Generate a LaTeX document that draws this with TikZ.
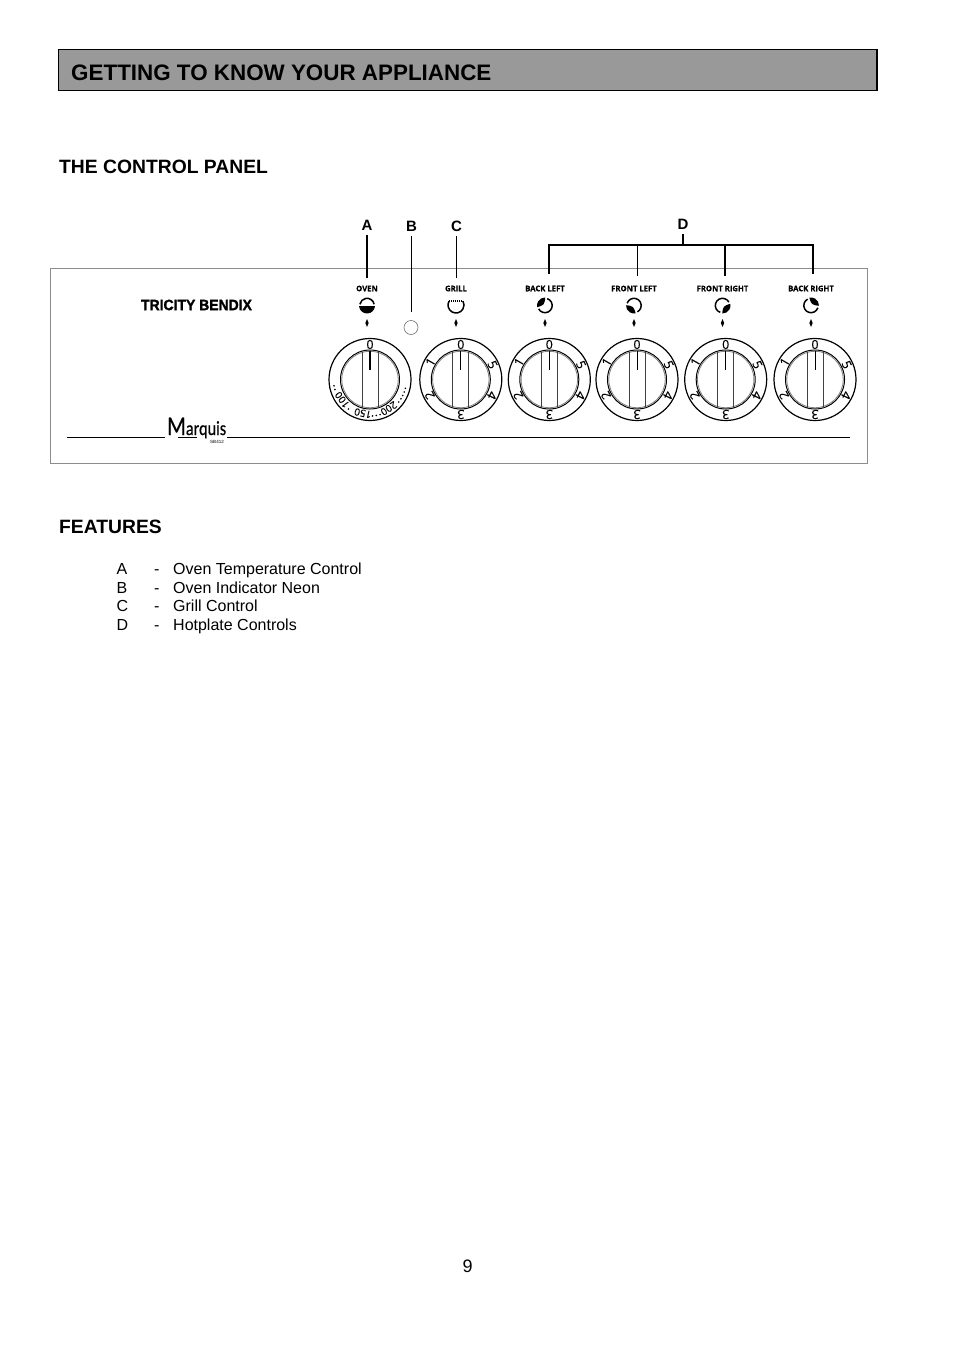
\documentclass[tikz,border=0pt]{standalone}
\usepackage{fontspec}
\setmainfont{Liberation Sans}
\newfontfamily\knobfont[FakeBold=.4]{Open Sans}
\newfontfamily\brandfont[FakeBold=1.6]{Liberation Sans}
\newfontfamily\marquisfont[FakeBold=.6]{Carlito}
\usetikzlibrary{shapes.geometric}

\begin{document}
\begin{tikzpicture}[x=1pt,y=-1pt,line cap=butt,
                    txt/.style={anchor=base west,inner sep=0pt},
                    heading/.style={txt,font=\fontsize{19.3}{22}\selectfont\bfseries},
                    body/.style={txt,font=\fontsize{16}{18}\selectfont},
                    tag/.style={inner sep=0pt,outer sep=5pt,font=\fontsize{15}{15}\selectfont\bfseries},
                    lead/.style={line width=1.6pt},
                    knoblabel/.style={inner sep=0pt,font=\knobfont\fontsize{7.7}{9}\selectfont\bfseries},
                    dialnum/.style={inner sep=0pt,font=\knobfont\fontsize{12.5}{14}\selectfont},
                    ovennum/.style={inner sep=0pt,font=\knobfont\fontsize{10}{11}\selectfont},
                    marker/.style={diamond,fill=black,inner sep=0pt,minimum width=3.5pt,minimum height=8pt,aspect=.5}]
  \tikzstyle{dial}=[circle,draw=black,line width=1.2pt,minimum size=82pt,inner sep=0pt]
  \tikzstyle{hub}=[circle,draw=black,line width=1pt,minimum size=59pt,inner sep=0pt]
  \useasboundingbox (0,0) rectangle (954,1351);

  % title bar
  \node (title) [draw=black,fill=black!40,line width=1pt,minimum width=818pt,minimum height=41pt,
                 inner sep=0pt,anchor=north west] at (58,49.5) {};
  \coordinate (titleNE) at (876.6,49);
  \coordinate (titleSE) at (876.6,91);
  \draw[line width=2pt] (titleNE) -- (titleSE);
  \node (titletext) [txt,font=\fontsize{22.4}{24}\selectfont\bfseries] at (71,81) {GETTING TO KNOW YOUR APPLIANCE};

  \node (panelhead) [heading] at (59,174) {THE CONTROL PANEL};
  \node (feathead) [heading] at (59,533) {FEATURES};

  % panel
  \node (panel) [draw=black!45,line width=1pt,minimum width=817pt,minimum height=195pt,
                 inner sep=0pt,anchor=north west] at (49.8,267.7) {};

  \node (brand) [inner sep=0pt,font=\brandfont\fontsize{15}{15}\selectfont\bfseries] at (196.5,305) {\scalebox{.93}[1]{TRICITY BENDIX}};
  \node (marquis) [txt,font=\marquisfont] at (167,435) {\scalebox{.81}[1]{\fontsize{27}{27}\selectfont M\fontsize{20}{20}\selectfont arquis}};
  \node (model) [inner sep=0pt,font=\fontsize{4.5}{5}\selectfont] at (217,442) {SB412};

  \coordinate (ruleA) at (67,437.5);
  \coordinate (ruleB) at (165,437.5);
  \coordinate (ruleC) at (178,437.5);
  \coordinate (ruleD) at (197,437.5);
  \coordinate (ruleE) at (227,437.5);
  \coordinate (ruleF) at (850,437.5);
  \path[draw,line width=.9pt] (ruleA) edge (ruleB)
        (ruleC) edge (ruleD)
        (ruleE) edge (ruleF);

  % letters and leaders
  \node (tagA) [tag] at (367,225) {A};
  \node (tagB) [tag] at (411.5,226) {B};
  \node (tagC) [tag] at (456.5,226) {C};
  \node (tagD) [tag] at (683,224) {D};

  \coordinate (endA) at (367,278);
  \coordinate (endB) at (411.5,312);
  \coordinate (endC) at (456.5,278);
  \coordinate (barD) at (683,245);
  \coordinate (barL) at (549,245);
  \coordinate (barFL) at (637.5,245);
  \coordinate (barFR) at (725,245);
  \coordinate (barR) at (813,245);
  \coordinate (endBL) at (549,274);
  \coordinate (endFL) at (637.5,276);
  \coordinate (endFR) at (725,276);
  \coordinate (endBR) at (813,274);

  \path[draw,lead] (tagA) edge (endA)
        (tagB) edge (endB)
        (tagC) edge (endC)
        (tagD) edge (barD)
        (barFL) edge (endFL)
        (barFR) edge (endFR);
  \draw[lead] (endBL) |- (barR) -- (endBR);

  % neon
  \node (neon) [circle,draw=black!55,line width=.6pt,minimum size=14pt,inner sep=0pt] at (411,327.5) {};

  % labels over the knobs
  \foreach \name/\lx/\text in {oven/367/OVEN,grill/456/GRILL,backleft/545/BACK LEFT,
                               frontleft/634/FRONT LEFT,frontright/722.5/FRONT RIGHT,backright/811/BACK RIGHT}{
    \node (lab\name) [knoblabel] at (\lx,288.5) {\text};
    \node (mark\name) [marker] at (\lx,323) {};
  }

  % symbols
  \coordinate (iconoven) at (367,305.5);
  \draw[line width=1.5pt] ([shift={(10:7.2pt)}]iconoven) arc[start angle=10,end angle=170,radius=7.2pt];
  \fill ([shift={(185:8pt)}]iconoven) arc[start angle=185,end angle=355,radius=8pt] -- cycle;

  \coordinate (icongrill) at (456,305);
  \draw[line width=1.5pt] ([shift={(150:8pt)}]icongrill) arc[start angle=150,end angle=390,radius=8pt];
  \draw[line width=1.6pt,dash pattern=on 1pt off 1pt] ([shift={(150:8pt)}]icongrill) -- ([shift={(30:8pt)}]icongrill);

  \foreach \name/\lx/\ang in {backleft/545/140,frontleft/634/230,frontright/722.5/320,backright/811/50}{
    \coordinate (icon\name) at (\lx,305.5);
    \draw[line width=1.5pt] ([shift={(\ang+68:7.2pt)}]icon\name) arc[start angle=\ang+68,end angle=\ang+292,radius=7.2pt];
    \fill ([shift={(\ang-52:8pt)}]icon\name) arc[start angle=\ang-52,end angle=\ang+52,radius=8pt]
      .. controls ([shift={(\ang+20:1pt)}]icon\name) and ([shift={(\ang-20:1pt)}]icon\name) .. cycle;
  }

  % knobs
  \foreach \name/\cx/\pen in {oven/370/1.5,grill/460.8/1.2,backleft/549.3/.8,
                              frontleft/637/.8,frontright/725.7/1.5,backright/815/.8}{
    \node (dial\name) [dial] at (\cx,379.5) {};
    \node (hub\name) [hub] at (\cx,379.5) {};
    \draw[black!50,line width=.8pt] (hub\name.center) circle[radius=28.2pt];
    \draw[black!75,line width=.9pt] (\cx-8,351.5) -- (\cx-8,407.5);
    \draw[black!75,line width=.9pt] (\cx+8,351.5) -- (\cx+8,407.5);
    \draw[line width=\pen pt] (\cx,351) -- (\cx,370);
    \node [dialnum] at ([shift={(90:35pt)}]dial\name.center) {0};
  }

  \foreach \name in {grill,backleft,frontleft,frontright,backright}{
    \foreach \num/\ang in {1/150,2/207,3/270,4/-27,5/25}{
      \node [dialnum,rotate=\ang-90] at ([shift={(\ang:35pt)}]dial\name.center) {\num};
    }
  }

  \foreach \num/\ang in {100/216,150/258,200/303}{
    \node [ovennum,rotate=\ang-90] at ([shift={(\ang:34.5pt)}]dialoven.center) {\num};
  }
  \foreach \ang in {190,196,234,274,280,286,322,328,334,340,346}{
    \fill ([shift={(\ang:36.5pt)}]dialoven.center) circle[radius=.9pt];
  }

  % features
  \foreach \row/\base/\key/\text in {1/574/A/Oven Temperature Control,2/593/B/Oven Indicator Neon,
                                     3/611/C/Grill Control,4/630/D/Hotplate Controls}{
    \node (key\row) [body] at (116.5,\base) {\key};
    \node (dash\row) [body] at (154,\base) {-};
    \node (feat\row) [body] at (173,\base) {\text};
  }

  \node (pageno) [txt,font=\fontsize{18}{20}\selectfont] at (462.5,1272) {9};

\end{tikzpicture}
\end{document}
